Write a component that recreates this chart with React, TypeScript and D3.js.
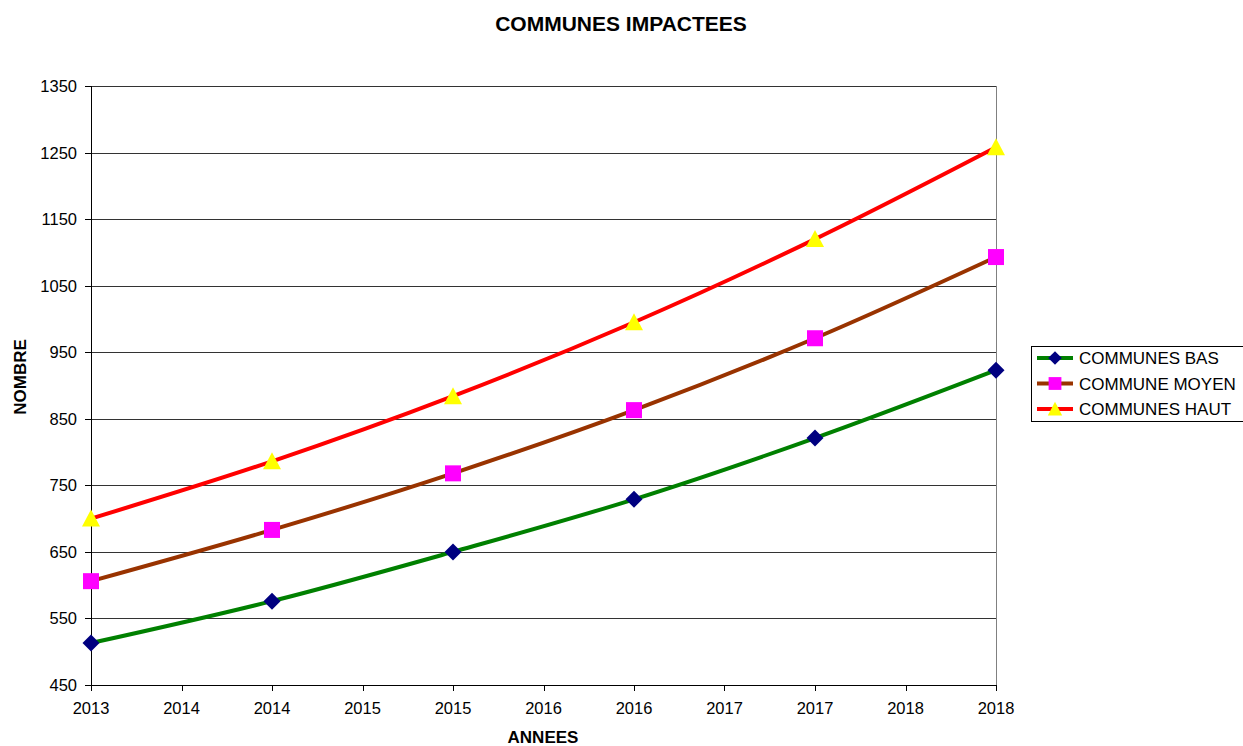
import React from "react";
import * as d3 from "d3";

const xTickLabels = ["2013", "2014", "2014", "2015", "2015", "2016", "2016", "2017", "2017", "2018", "2018"];
const pointIndex = [0, 2, 4, 6, 8, 10];
const yTicks = [450, 550, 650, 750, 850, 950, 1050, 1150, 1250, 1350];
const basValues = [513, 576, 650, 729, 821, 923];
const moyenValues = [606, 683, 768, 863, 971, 1093];
const hautValues = [700, 786, 884, 995, 1120, 1258];

const series = [
  { name: "COMMUNES BAS", values: basValues, line: "#008000", marker: "diamond", fill: "#000080" },
  { name: "COMMUNE MOYEN", values: moyenValues, line: "#993300", marker: "square", fill: "#FF00FF" },
  { name: "COMMUNES HAUT", values: hautValues, line: "#FF0000", marker: "triangle", fill: "#FFFF00" },
];

const W = 1243, H = 746;
const left = 91, right = 996, top = 86, bottom = 685;
const font = "'Liberation Sans', Arial, sans-serif";

function Marker({ type, x, y, fill, k = 1 }: { type: string; x: number; y: number; fill: string; k?: number }) {
  if (type === "diamond") {
    const r = 8.5 * k;
    return <path d={`M${x},${y - r}L${x + r},${y}L${x},${y + r}L${x - r},${y}Z`} fill={fill} />;
  }
  if (type === "square") {
    const s = 8 * k;
    return <rect x={x - s} y={y - s} width={2 * s} height={2 * s} fill={fill} />;
  }
  const r = 9 * k;
  return <path d={`M${x},${y - 9 * k}L${x + r},${y + 8 * k}L${x - r},${y + 8 * k}Z`} fill={fill} />;
}

export default function App() {
  const x = d3.scaleLinear().domain([0, 10]).range([left, right]);
  const y = d3.scaleLinear().domain([450, 1350]).range([bottom, top]);
  const line = d3
    .line<number>()
    .x((_, i) => x(pointIndex[i]))
    .y((d) => y(d))
    .curve(d3.curveCatmullRom.alpha(0.5));

  return (
    <svg width={W} height={H} style={{ position: "absolute", left: 0, top: 0, background: "#fff" }} fontFamily={font}>
      <text x={621} y={31} textAnchor="middle" fontSize={21} fontWeight="bold">COMMUNES IMPACTEES</text>
      {yTicks.map((t) => (
        <g key={t}>
          <line x1={left} x2={right} y1={Math.round(y(t)) + 0.5} y2={Math.round(y(t)) + 0.5} stroke="#333" strokeWidth={1} />
          <line x1={left - 6} x2={left} y1={Math.round(y(t)) + 0.5} y2={Math.round(y(t)) + 0.5} stroke="#000" />
          <text x={left - 14} y={y(t) + 6} textAnchor="end" fontSize={16.5}>{t}</text>
        </g>
      ))}
      <line x1={right + 0.5} x2={right + 0.5} y1={top} y2={bottom} stroke="#808080" />
      <line x1={left + 0.5} x2={left + 0.5} y1={top} y2={bottom + 1} stroke="#000" />
      <line x1={left} x2={right + 1} y1={bottom + 0.5} y2={bottom + 0.5} stroke="#000" />
      {xTickLabels.map((lab, i) => (
        <g key={i}>
          <line x1={Math.round(x(i)) + 0.5} x2={Math.round(x(i)) + 0.5} y1={bottom} y2={bottom + 6} stroke="#000" />
          <text x={x(i)} y={714} textAnchor="middle" fontSize={16.5}>{lab}</text>
        </g>
      ))}
      <text x={543} y={743} textAnchor="middle" fontSize={17} fontWeight="bold">ANNEES</text>
      <text transform={`translate(26,377) rotate(-90)`} textAnchor="middle" fontSize={17} fontWeight="bold">NOMBRE</text>
      {series.map((s) => (
        <g key={s.name}>
          <path d={line(s.values) || ""} fill="none" stroke={s.line} strokeWidth={4} />
          {s.values.map((v, i) => (
            <Marker key={i} type={s.marker} x={x(pointIndex[i])} y={y(v)} fill={s.fill} />
          ))}
        </g>
      ))}
      <rect x={1031.5} y={346.5} width={215} height={75} fill="#fff" stroke="#000" />
      {series.map((s, i) => {
        const ly = 358 + i * 25.5;
        return (
          <g key={s.name}>
            <line x1={1037} x2={1073} y1={ly} y2={ly} stroke={s.line} strokeWidth={4} />
            <Marker type={s.marker} x={1055} y={ly} fill={s.fill} k={0.8} />
            <text x={1079} y={ly + 6} fontSize={17}>{s.name}</text>
          </g>
        );
      })}
    </svg>
  );
}
